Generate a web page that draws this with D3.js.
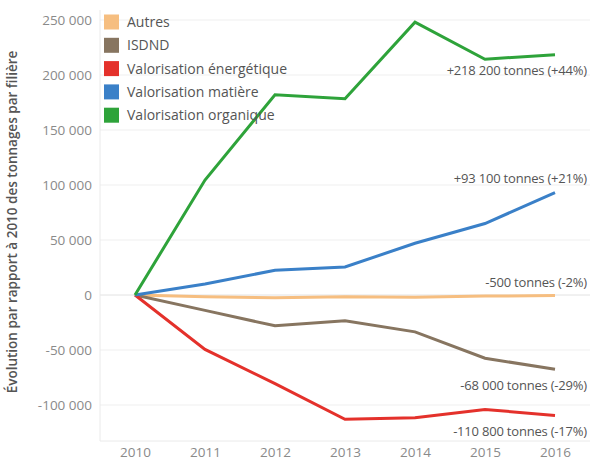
<!DOCTYPE html>
<html><head><meta charset="utf-8">
<script src="https://cdn.jsdelivr.net/npm/d3@7"></script>
<style>
body{margin:0;background:#fff;}
svg{display:block;font-family:"Open Sans",sans-serif;}
</style></head>
<body><svg id="c" width="590" height="461"></svg>
<script>
const years = [2010, 2011, 2012, 2013, 2014, 2015, 2016];
const seriesNames = ["Autres", "ISDND", "Valorisation énergétique", "Valorisation matière", "Valorisation organique"];
const colors = ["#f6be80", "#877560", "#e4312b", "#3a80c8", "#2ea33a"];
const autres = [0, -1500, -2500, -1500, -2000, -1000, -500];
const isdnd = [0, -14000, -28000, -23500, -33500, -57500, -67500];
const valEnergetique = [0, -49500, -80500, -113000, -111500, -104000, -109500];
const valMatiere = [0, 10000, 22500, 25500, 47000, 65000, 93000];
const valOrganique = [0, 104500, 182000, 178500, 248000, 214300, 218500];
const endLabels = ["-500 tonnes (-2%)", "-68 000 tonnes (-29%)", "-110 800 tonnes (-17%)", "+93 100 tonnes (+21%)", "+218 200 tonnes (+44%)"];
const endLabelOffsets = [-13, 16, 16, -14, 16];
const yTicks = [-100000, -50000, 0, 50000, 100000, 150000, 200000, 250000];
const yTitle = "Évolution par rapport à 2010 des tonnages par filière";

const values = [autres, isdnd, valEnergetique, valMatiere, valOrganique];
const svg = d3.select("#c");
const mLeft = 100, mRight = 590, mTop = 10, mBottom = 441;

const x = d3.scalePoint().domain(years).range([135, 555]);
const y = d3.scaleLinear().domain([-100000, 250000]).range([405, 20]);

const fmt = v => d3.format(",")(v).replace(/,/g, " ").replace("−", "-");

// gridlines
svg.append("g").selectAll("line").data(yTicks).join("line")
  .attr("x1", mLeft).attr("x2", mRight)
  .attr("y1", d => y(d)).attr("y2", d => y(d))
  .attr("stroke", d => d === 0 ? "#e2e2e2" : "#efefef").attr("stroke-width", 1);

// axis lines
svg.append("line").attr("x1", mLeft).attr("x2", mLeft).attr("y1", mTop).attr("y2", mBottom).attr("stroke", "#eaeaea");
svg.append("line").attr("x1", mLeft).attr("x2", mRight).attr("y1", mBottom).attr("y2", mBottom).attr("stroke", "#eaeaea");

// y axis
const yAxis = svg.append("g").attr("transform", `translate(${mLeft - 8},0)`)
  .call(d3.axisLeft(y).tickValues(yTicks).tickFormat(fmt).tickSize(0).tickPadding(0));
yAxis.select(".domain").remove();
yAxis.selectAll("text").attr("fill", "#8a8a8a").style("font-size", "13.5px").style("font-family", "Open Sans, sans-serif");

// x axis
const xAxis = svg.append("g").attr("transform", `translate(0,${mBottom})`)
  .call(d3.axisBottom(x).tickSize(0).tickPadding(6).tickFormat(d3.format("d")));
xAxis.select(".domain").remove();
xAxis.selectAll("text").attr("fill", "#8a8a8a").style("font-size", "13.5px").style("font-family", "Open Sans, sans-serif");

// y title
svg.append("text").attr("transform", "translate(17,222) rotate(-90)")
  .attr("text-anchor", "middle").attr("fill", "#555").style("font-size", "13.5px").style("font-weight", "600")
  .text(yTitle);

// lines
const line = d3.line().x((d, i) => x(years[i])).y(d => y(d));
const order = [0, 1, 2, 3, 4];
svg.append("g").selectAll("path").data(order).join("path")
  .attr("d", i => line(values[i]))
  .attr("fill", "none").attr("stroke", i => colors[i]).attr("stroke-width", 3)
  .attr("stroke-linejoin", "miter");

// end labels
svg.append("g").selectAll("text").data(order).join("text")
  .attr("x", 587).attr("y", i => y(values[i][6]) + endLabelOffsets[i])
  .attr("dy", "0.35em").attr("text-anchor", "end").attr("fill", "#555")
  .style("font-size", "13px").style("letter-spacing", "-0.2px").text(i => endLabels[i]);

// legend
const lg = svg.append("g").selectAll("g").data(seriesNames).join("g")
  .attr("transform", (d, i) => `translate(104,${22 + i * 23.3})`);
lg.append("rect").attr("x", 0).attr("y", -7.5).attr("width", 15).attr("height", 15).attr("fill", (d, i) => colors[i]);
lg.append("text").attr("x", 23).attr("dy", "0.35em").attr("fill", "#555").style("font-size", "14px").text(d => d);
</script></body></html>
